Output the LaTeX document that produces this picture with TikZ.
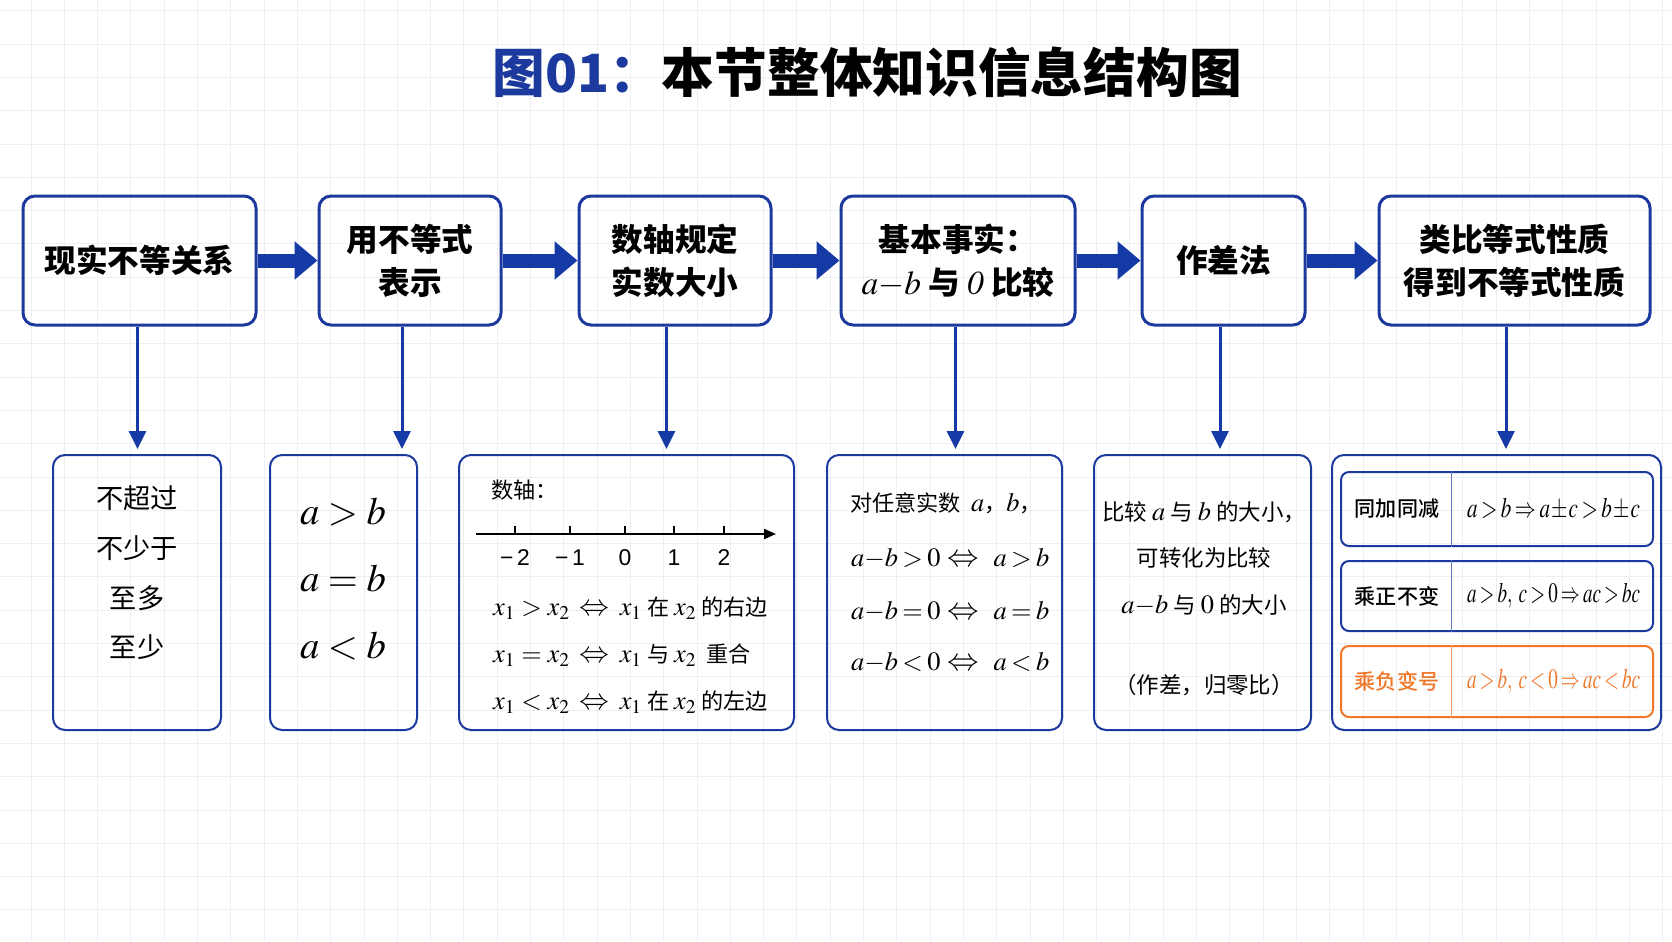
\documentclass[tikz,border=0pt]{standalone}
\usepackage{mathptmx}
\usepackage[no-math]{fontspec}
\usepackage{graphicx}
\setmainfont{Noto Sans CJK SC}
\newfontfamily\axisfont{Liberation Sans}
\IfFontExistsTF{Noto Sans CJK SC Medium}{\newfontfamily\labelfont{Noto Sans CJK SC Medium}}{\newfontfamily\labelfont[FakeBold=1.2]{Noto Sans CJK SC}}
\usepackage{xcolor}
\usetikzlibrary{arrows.meta}
\definecolor{boxblue}{RGB}{28,58,158}
\definecolor{flowblue}{RGB}{22,58,165}
\definecolor{negorange}{RGB}{240,118,40}
\definecolor{gridgray}{RGB}{238,239,242}
\newlength\pxu \setlength\pxu{0.02cm}
\newcommand\mth[2][15]{{\fontsize{#1}{#1}\selectfont$#2$}}
\newcommand\tightmath[1]{{\thickmuskip=3mu\relax\medmuskip=1mu\relax #1}}
\newcommand\eqrow[2]{\makebox[80\pxu][l]{\tightmath{\mth{#1}}}\makebox[64\pxu]{\mth[18]{\Leftrightarrow}}\makebox[54\pxu][r]{\tightmath{\mth{#2}}}}
\newcommand\fitmath[1]{\resizebox{173\pxu}{\height}{\tightmath{#1}}}

\begin{document}
\begin{tikzpicture}[x=\pxu,y=-\pxu,
  topbox/.style={draw=boxblue,line width=3\pxu,rounded corners=12\pxu,align=center,inner sep=0pt,font=\fontsize{18}{24.4}\selectfont\bfseries},
  subbox/.style={draw=boxblue,line width=2\pxu,rounded corners=12\pxu,inner sep=0pt,minimum height=275\pxu},
  rowbox/.style={draw=boxblue,line width=2\pxu,rounded corners=8\pxu,minimum width=312\pxu,inner sep=0pt},
  flow/.style={flowblue,line width=0.28cm,-{Triangle[length=0.46cm,width=0.74cm]}},
  drop/.style={flowblue,line width=0.06cm,-{Triangle[length=0.36cm,width=0.34cm]},shorten >=0.1cm},
  axisline/.style={line width=0.04cm},
  txt/.style={font=\fontsize{12.6}{15}\selectfont},
  rowlabel/.style={font=\labelfont\fontsize{12}{14}\selectfont},
  rowmath/.style={font=\fontsize{16}{18}\selectfont}]
  \fill[white] (0,0) rectangle (1672,941);
  \useasboundingbox (0,0) rectangle (1672,941);
  \foreach \gx in {31,64.3,...,1672} \draw[gridgray,line width=0.02cm] (\gx,0) -- (\gx,941);
  \foreach \gy in {10.8,44.1,...,941} \draw[gridgray,line width=0.02cm] (0,\gy) -- (1672,\gy);

  \node[font=\fontsize{30}{36}\selectfont\bfseries] (title) at (867,72) {\textcolor{boxblue}{图01：}本节整体知识信息结构图};

  \node[topbox,minimum width=233\pxu,minimum height=129\pxu] (t1) at (139.5,260.5) {现实不等关系};
  \node[topbox,minimum width=182\pxu,minimum height=129\pxu] (t2) at (410,260.5) {用不等式\\表示};
  \node[topbox,minimum width=192\pxu,minimum height=129\pxu] (t3) at (675,260.5) {数轴规定\\实数大小};
  \node[topbox,minimum width=234\pxu,minimum height=129\pxu] (t4) at (958,260.5) {基本事实：\\\mth[19]{a{-}b} 与 \mth[19]{\mathit{0}} 比较};
  \node[topbox,minimum width=163\pxu,minimum height=129\pxu] (t5) at (1223.5,260.5) {作差法};
  \node[topbox,minimum width=271\pxu,minimum height=129\pxu] (t6) at (1514.5,260.5) {类比等式性质\\得到不等式性质};
  \foreach \i/\j in {1/2,2/3,3/4,4/5,5/6} \draw[flow] (t\i.east) -- (t\j.west);

  \node[subbox,minimum width=168\pxu] (b1) at (137,592.5) {};
  \node[subbox,minimum width=147\pxu] (b2) at (343.5,592.5) {};
  \node[subbox,minimum width=335\pxu] (b3) at (626.5,592.5) {};
  \node[subbox,minimum width=235\pxu] (b4) at (944.5,592.5) {};
  \node[subbox,minimum width=217\pxu] (b5) at (1202.5,592.5) {};
  \node[subbox,minimum width=329\pxu] (b6) at (1496.5,592.5) {};
  \foreach \i/\dx in {1/-2,2/-8,3/-8.5,4/-2.5,5/-3.5,6/-8.5}
    \draw[drop] ([xshift=\dx*0.02cm]t\i.south) -- ([xshift=\dx*0.02cm]t\i.south |- b\i.north);

  \node[align=center,font=\fontsize{15.5}{28.3}\selectfont] (b1txt) at (137,573) {不超过\\不少于\\至多\\至少};
  \node[align=center,font=\fontsize{22}{38}\selectfont] (b2txt) at (343,579) {$a>b$\\$a=b$\\$a<b$};

  \node[txt,anchor=west] (axtitle) at (485,490) {数轴：};
  \draw[axisline,-{Triangle[length=0.24cm,width=0.2cm]}] (476,534) coordinate (axL) -- (776,534) coordinate (axR);
  \foreach \tx/\tl in {515/−\hspace{2pt}2,570/−\hspace{2pt}1,625/0,674/1,724/2}{
    \draw[axisline] (\tx,534) -- (\tx,526);
    \node[font=\axisfont\fontsize{13}{15}\selectfont] (tick\tx) at (\tx,558) {\tl};
  }
  \node[txt,anchor=west] (axrow1) at (487,608) {\mth{x_1>x_2}\ \ \mth[17]{\Leftrightarrow}\ \ \mth{x_1} 在 \mth{x_2} 的右边};
  \node[txt,anchor=west] (axrow2) at (487,655) {\mth{x_1=x_2}\ \ \mth[17]{\Leftrightarrow}\ \ \mth{x_1} 与 \mth{x_2}\ \ 重合};
  \node[txt,anchor=west] (axrow3) at (487,702) {\mth{x_1<x_2}\ \ \mth[17]{\Leftrightarrow}\ \ \mth{x_1} 在 \mth{x_2} 的左边};

  \node[txt] (b4head) at (946,503) {对任意实数\ \ \mth{a}，\mth{b}，};
  \node[txt,anchor=west] (b4row1) at (845,559) {\eqrow{a{-}b>0}{a>b}};
  \node[txt,anchor=west] (b4row2) at (845,612) {\eqrow{a{-}b=0}{a=b}};
  \node[txt,anchor=west] (b4row3) at (845,663) {\eqrow{a{-}b<0}{a<b}};

  \node[align=center,font=\fontsize{12.8}{26.4}\selectfont] (b5txt) at (1204,598.5) {比较 \mth{a} 与 \mth{b} 的大小，\\可转化为比较\\\mth{a{-}b} 与 \mth{0} 的大小\\[19pt]（作差，归零比）};

  \node[rowbox,minimum height=74\pxu] (p1) at (1497,509) {};
  \node[rowbox,minimum height=70\pxu] (p2) at (1497,596) {};
  \node[rowbox,draw=negorange,minimum height=71\pxu] (p3) at (1497,681.5) {};
  \foreach \p/\c in {p1/boxblue,p2/boxblue,p3/negorange}
    \draw[\c!70,line width=0.02cm] ([xshift=2.22cm]\p.north west) -- ([xshift=2.22cm]\p.south west);
  \node[rowlabel] (p1lab) at (1397,509) {同加同减};
  \node[rowlabel] (p2lab) at (1397,596) {乘正不变};
  \node[rowlabel,text=negorange] (p3lab) at (1397,681.5) {乘负变号};
  \node[rowmath] (p1math) at (1553.5,509) {\fitmath{$a>b\Rightarrow a\pm c>b\pm c$}};
  \node[rowmath] (p2math) at (1553.5,596) {\fitmath{$a>b,\ c>0\Rightarrow ac>bc$}};
  \node[rowmath,text=negorange] (p3math) at (1553.5,681.5) {\fitmath{$a>b,\ c<0\Rightarrow ac<bc$}};
\end{tikzpicture}
\end{document}
